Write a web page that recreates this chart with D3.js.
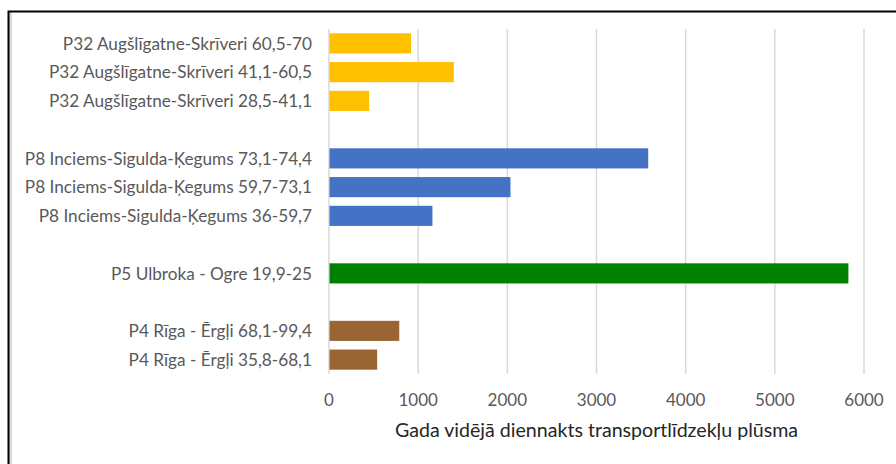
<!DOCTYPE html>
<html>
<head>
<meta charset="utf-8">
<script src="https://cdn.jsdelivr.net/npm/d3@7/dist/d3.min.js"></script>
<style>
  html, body { margin: 0; padding: 0; background: #fff; }
  svg { display: block; }
</style>
</head>
<body>
<svg id="chart" width="896" height="464"></svg>
<script>
// Road sections, top to bottom, with average daily traffic volume
const categories = [
  "P32 Augšlīgatne-Skrīveri 60,5-70",
  "P32 Augšlīgatne-Skrīveri 41,1-60,5",
  "P32 Augšlīgatne-Skrīveri 28,5-41,1",
  "P8 Inciems-Sigulda-Ķegums 73,1-74,4",
  "P8 Inciems-Sigulda-Ķegums 59,7-73,1",
  "P8 Inciems-Sigulda-Ķegums 36-59,7",
  "P5 Ulbroka - Ogre 19,9-25",
  "P4 Rīga - Ērgļi 68,1-99,4",
  "P4 Rīga - Ērgļi 35,8-68,1"
];
const values = [920, 1400, 450, 3580, 2035, 1160, 5825, 788, 540];
const roads = ["P32", "P32", "P32", "P8", "P8", "P8", "P5", "P4", "P4"];
const roadColors = { P32: "#FFC000", P8: "#4472C4", P5: "#008000", P4: "#996633" };
const xTicks = [0, 1000, 2000, 3000, 4000, 5000, 6000];
const xTitle = "Gada vidējā diennakts transportlīdzekļu plūsma";

const font = "Lato, 'Open Sans', sans-serif";
const svg = d3.select("#chart");

// Row slots: a blank slot separates each road
const slots = [];
categories.forEach((c, i) => {
  if (i > 0 && roads[i] !== roads[i - 1]) slots.push("gap-" + i);
  slots.push(c);
});

const x = d3.scaleLinear().domain([0, 6000]).range([329, 864]);
const y = d3.scaleBand().domain(slots).range([29, 374]).paddingInner(0.3).paddingOuter(0.15);

// Frame
svg.append("rect").attr("x", 9).attr("y", 12).attr("width", 3).attr("height", 452).attr("fill", "#d9d9d9");
svg.append("path")
  .attr("d", "M8.5,464 V11.5 H896")
  .attr("fill", "none").attr("stroke", "#000").attr("stroke-width", 2);

// Vertical gridlines
svg.append("g").selectAll("line").data(xTicks).join("line")
  .attr("x1", d => x(d)).attr("x2", d => x(d))
  .attr("y1", 29).attr("y2", 374)
  .attr("stroke", "#d9d9d9").attr("stroke-width", 1.5);

// Bars
svg.append("g").selectAll("rect").data(categories).join("rect")
  .attr("x", x(0) + 0.5)
  .attr("y", d => y(d))
  .attr("width", (d, i) => x(values[i]) - x(0) - 0.5)
  .attr("height", y.bandwidth())
  .attr("fill", (d, i) => roadColors[roads[i]]);

// Category labels
svg.append("g").selectAll("text").data(categories).join("text")
  .attr("x", 312)
  .attr("y", d => y(d) + y.bandwidth() / 2)
  .attr("dy", "0.36em")
  .attr("text-anchor", "end")
  .attr("font-family", font).attr("font-size", 17.2)
  .attr("fill", "#595959")
  .text(d => d);

// Tick labels
svg.append("g").selectAll("text").data(xTicks).join("text")
  .attr("x", d => x(d))
  .attr("y", 400)
  .attr("dy", "0.36em")
  .attr("text-anchor", "middle")
  .attr("font-family", font).attr("font-size", 17)
  .attr("fill", "#595959")
  .text(d => d);

// Axis title
svg.append("text")
  .attr("x", (x(0) + x(6000)) / 2)
  .attr("y", 430)
  .attr("dy", "0.36em")
  .attr("text-anchor", "middle")
  .attr("font-family", font).attr("font-size", 19.6)
  .attr("fill", "#262626")
  .text(xTitle);
</script>
</body>
</html>
